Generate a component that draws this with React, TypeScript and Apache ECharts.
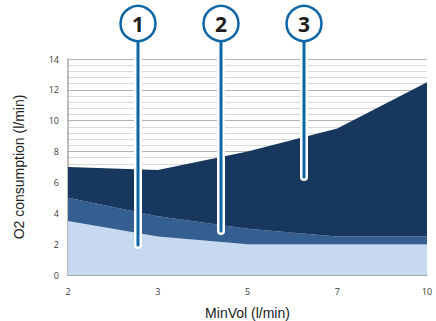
import React, { useEffect, useRef } from "react";
import * as echarts from "echarts";

const categories = ["2", "3", "5", "7", "10"];
const baseLayer = [3.5, 2.5, 2.0, 2.0, 2.0];
const middleLayer = [1.5, 1.3, 1.0, 0.5, 0.5];
const topLayer = [2.0, 3.0, 5.0, 7.0, 10.0];
const calloutLabels = ["1", "2", "3"];

const BLUE = "#0f66a6";

export default function App() {
  const ref = useRef<HTMLDivElement>(null);
  useEffect(() => {
    if (!ref.current) return;
    const chart = echarts.init(ref.current, null, { renderer: "svg" });
    const calloutX = [138, 221, 304];
    const calloutEnd = [245, 231, 177];
    const graphics: any[] = [];
    calloutLabels.forEach((lab, i) => {
      const x = calloutX[i];
      graphics.push({
        type: "line",
        z: 100,
        shape: { x1: x, y1: 40, x2: x, y2: calloutEnd[i] },
        style: { stroke: "#ffffff", lineWidth: 8, lineCap: "round" },
      });
      graphics.push({
        type: "line",
        z: 101,
        shape: { x1: x, y1: 40, x2: x, y2: calloutEnd[i] },
        style: { stroke: BLUE, lineWidth: 3, lineCap: "round" },
      });
      graphics.push({
        type: "circle",
        z: 102,
        shape: { cx: x, cy: 23.5, r: 17.5 },
        style: { fill: "#ffffff", stroke: BLUE, lineWidth: 2.5 },
      });
      graphics.push({
        type: "text",
        z: 103,
        x: x,
        y: 24,
        style: {
          text: lab,
          fill: "#1e1e1e",
          font: 'bold 21px "Open Sans", sans-serif',
          align: "center",
          verticalAlign: "middle",
        },
      });
    });

    const mk = (name: string, data: number[], color: string) => ({
      name,
      type: "line",
      stack: "o2",
      data,
      showSymbol: false,
      symbol: "none",
      lineStyle: { width: 0 },
      areaStyle: { color, opacity: 1 },
      itemStyle: { color },
    });

    chart.setOption({
      animation: false,
      grid: { left: 68, right: 9, top: 59, bottom: 46, containLabel: false, outerBoundsMode: "none" },
      xAxis: {
        type: "category",
        data: categories,
        boundaryGap: false,
        name: "MinVol (l/min)",
        nameLocation: "middle",
        nameGap: 31,
        nameTextStyle: { color: "#222", fontSize: 14, fontFamily: "Liberation Sans, Arial, sans-serif" },
        axisLine: { lineStyle: { color: "#a6a6a6", width: 1.5 } },
        axisTick: { show: false },
        axisLabel: { color: "#3a3a3a", fontSize: 9, margin: 12, fontFamily: "Open Sans, sans-serif" },
        splitLine: { show: false },
      },
      yAxis: {
        type: "value",
        min: 0,
        max: 14,
        interval: 2,
        name: "O2 consumption (l/min)",
        nameLocation: "middle",
        nameGap: 42,
        nameRotate: 90,
        nameTextStyle: { color: "#222", fontSize: 14, fontFamily: "Liberation Sans, Arial, sans-serif" },
        axisLine: { show: true, lineStyle: { color: "#a6a6a6", width: 1.5 } },
        axisTick: { show: false },
        axisLabel: { color: "#3a3a3a", fontSize: 9, margin: 9, fontFamily: "Open Sans, sans-serif" },
        splitLine: { show: true, lineStyle: { color: "#b3b3b3", width: 1 } },
        minorTick: { show: false, splitNumber: 5 },
        minorSplitLine: { show: true, lineStyle: { color: "#d9d9d9", width: 1 } },
      },
      series: [
        mk("base", baseLayer, "#c6d9f1"),
        mk("middle", middleLayer, "#365f91"),
        mk("top", topLayer, "#17375e"),
      ],
      graphic: graphics,
    });
    return () => chart.dispose();
  }, []);
  return <div ref={ref} style={{ width: 436, height: 321, position: "absolute", left: 0, top: 0 }} />;
}
